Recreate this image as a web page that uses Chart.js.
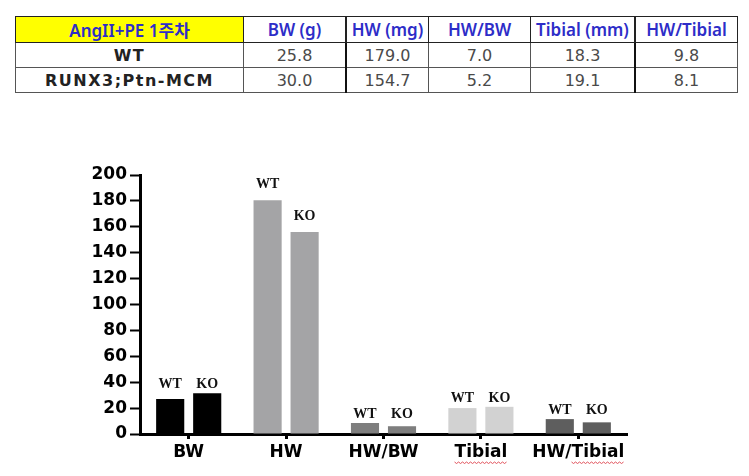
<!DOCTYPE html>
<html>
<head>
    <title>AngII+PE 1주차</title>
    <script src="https://cdn.jsdelivr.net/npm/chart.js"></script>
    <style>
        body { margin: 0; background: #fff; width: 749px; height: 476px; overflow: hidden; position: relative; }
        #tbl { position: absolute; left: 15px; top: 16px; border-collapse: collapse; table-layout: fixed; }
        #tbl td { border: 1px solid #555; height: 24px; padding: 0; text-align: center; font-family: "DejaVu Sans", sans-serif; font-size: 16px; color: #4a4a4a; white-space: nowrap; overflow: hidden; }
        #tbl tr.head td { color: #2d2dc8; font-family: "Noto Sans", "Noto Sans CJK KR", sans-serif; font-weight: 600; font-size: 17px; border-color: #222; }
        #tbl tr.head td.first { background: #ffff00; }
        #tbl td.name { color: #222; font-weight: 700; letter-spacing: 1.5px; }
        #tbl td.thick { border-right: 2px solid #111; }
        #wrap { position: absolute; left: 70px; top: 155px; width: 590px; height: 321px; }
    </style>
</head>
<body>
    <table id="tbl"></table>
    <div id="wrap"><canvas id="myChart"></canvas></div>
    <script>
        // 표 데이터
        const tableHead = ['AngII+PE 1주차', 'BW (g)', 'HW (mg)', 'HW/BW', 'Tibial (mm)', 'HW/Tibial'];
        const tableWT = ['WT', '25.8', '179.0', '7.0', '18.3', '9.8'];
        const tableKO = ['RUNX3;Ptn-MCM', '30.0', '154.7', '5.2', '19.1', '8.1'];
        const colWidths = [227, 101, 81, 101, 103, 101];

        // 그래프 데이터
        const categories = ['BW', 'HW', 'HW/BW', 'Tibial', 'HW/Tibial'];
        const wtValues = [27, 180.5, 8.5, 20, 11.5];
        const koValues = [31.5, 156, 6, 21, 9];
        const barColors = ['#000000', '#a4a4a6', '#7e7e7e', '#d2d2d2', '#5e5e5e'];
        const yTicks = [0, 20, 40, 60, 80, 100, 120, 140, 160, 180, 200];

        const tbl = document.getElementById('tbl');
        [tableHead, tableWT, tableKO].forEach(function(row, r) {
            const tr = document.createElement('tr');
            if (r === 0) tr.className = 'head';
            row.forEach(function(txt, c) {
                const td = document.createElement('td');
                td.textContent = txt;
                td.style.width = colWidths[c] + 'px';
                let cls = [];
                if (c === 0) cls.push(r === 0 ? 'first' : 'name');
                if (c === 1 || c === 4) cls.push('thick');
                td.className = cls.join(' ');
                tr.appendChild(td);
            });
            tbl.appendChild(tr);
        });

        // WT / KO 라벨
        const barLabels = {
            id: 'barLabels',
            afterDatasetsDraw(chart) {
                const ctx = chart.ctx;
                const m0 = chart.getDatasetMeta(0).data;
                const m1 = chart.getDatasetMeta(1).data;
                ctx.save();
                ctx.font = 'bold 14px "Liberation Serif", serif';
                ctx.fillStyle = '#111';
                ctx.textAlign = 'center';
                ctx.textBaseline = 'alphabetic';
                for (let i = 0; i < m0.length; i++) {
                    const a = m0[i], b = m1[i];
                    if (Math.abs(a.y - b.y) < 15) {
                        const y = Math.min(a.y, b.y) - 5;
                        ctx.fillText('WT', a.x, y);
                        ctx.fillText('KO', b.x, y);
                    } else {
                        ctx.fillText('WT', a.x, a.y - 12);
                        ctx.fillText('KO', b.x, b.y - 12);
                    }
                }
                ctx.restore();
            },
            afterDraw(chart) {
                // Tibial 아래 빨간 물결선
                const ctx = chart.ctx;
                const xs = chart.scales.x;
                ctx.save();
                ctx.font = 'bold 17px "DejaVu Sans", sans-serif';
                ctx.strokeStyle = '#e0505a';
                ctx.lineWidth = 1;
                categories.forEach(function(lab, i) {
                    const k = lab.indexOf('Tibial');
                    if (k < 0) return;
                    const full = ctx.measureText(lab).width;
                    const pre = ctx.measureText(lab.slice(0, k)).width;
                    const w = ctx.measureText('Tibial').width;
                    const x0 = xs.getPixelForValue(i) - full / 2 + pre;
                    const y = xs.top + 28;
                    ctx.beginPath();
                    for (let x = 0; x <= w; x += 2) {
                        const yy = y + ((x / 2) % 2 === 0 ? 0 : 1.5);
                        if (x === 0) ctx.moveTo(x0 + x, yy); else ctx.lineTo(x0 + x, yy);
                    }
                    ctx.stroke();
                });
                ctx.restore();
            }
        };

        const ctx = document.getElementById('myChart').getContext('2d');
        const myChart = new Chart(ctx, {
            type: 'bar',
            data: {
                labels: categories,
                datasets: [{
                    label: 'WT',
                    data: wtValues,
                    backgroundColor: barColors
                }, {
                    label: 'KO',
                    data: koValues,
                    backgroundColor: barColors
                }]
            },
            options: {
                responsive: true,
                maintainAspectRatio: false,
                animation: false,
                categoryPercentage: 0.76,
                barPercentage: 0.76,
                layout: { padding: { top: 20, right: 33, left: 0, bottom: 0 } },
                plugins: {
                    legend: { display: false },
                    tooltip: { enabled: false }
                },
                scales: {
                    x: {
                        grid: { offset: false, drawOnChartArea: false, tickLength: 5, tickWidth: 3, color: '#000' },
                        border: { color: '#000', width: 3 },
                        ticks: { color: '#000', font: { family: 'DejaVu Sans', size: 17, weight: 'bold' }, padding: 3, maxRotation: 0, minRotation: 0, autoSkip: false },
                        afterFit(scale) { scale.height = 42; }
                    },
                    y: {
                        min: 0,
                        max: 200,
                        afterBuildTicks(scale) { scale.ticks = yTicks.map(v => ({ value: v })); },
                        grid: { drawOnChartArea: false, tickLength: 10, tickWidth: 2, color: '#000' },
                        border: { color: '#000', width: 3 },
                        ticks: { color: '#000', font: { family: 'DejaVu Sans', size: 17, weight: 'bold' }, padding: 3 },
                        afterFit(scale) { scale.width = 70; }
                    }
                }
            },
            plugins: [barLabels]
        });
    </script>
</body>
</html>
